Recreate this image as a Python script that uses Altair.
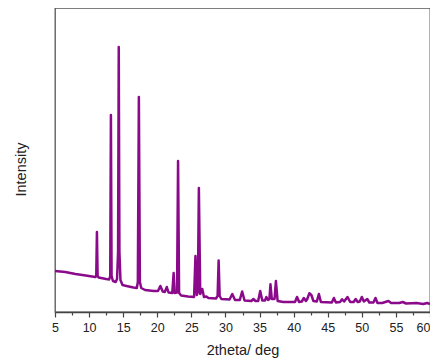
import altair as alt
import pandas as pd

two_theta = [
    5.0, 6.5, 8.0, 9.5, 10.9, 11.05, 11.15, 11.25, 11.4, 12.5,
    12.95, 13.1, 13.2, 13.3, 13.5, 13.9, 14.1, 14.25, 14.35, 14.45,
    14.6, 14.9, 15.5, 16.5, 17.0, 17.15, 17.3, 17.45, 17.65, 18.2,
    19.5, 20.1, 20.45, 20.8, 21.1, 21.4, 21.65, 22.2, 22.4, 22.55,
    22.9, 23.05, 23.2, 23.5, 24.5, 25.4, 25.6, 25.8, 25.95, 26.1,
    26.3, 26.6, 26.85, 27.2, 27.5, 28.6, 28.85, 29.0, 29.15, 29.4,
    30.6, 31.0, 31.4, 32.1, 32.45, 32.8, 33.8, 34.1, 34.4, 34.8,
    35.1, 35.4, 35.8, 36.0, 36.25, 36.45, 36.6, 36.8, 37.2, 37.4,
    37.65, 38.5, 40.2, 40.5, 40.8, 41.2, 41.5, 41.8, 42.0, 42.3,
    42.6, 42.9, 43.4, 43.7, 44.0, 45.6, 45.9, 46.2, 46.8, 47.1,
    47.4, 47.9, 48.3, 48.8, 49.1, 49.4, 49.7, 50.0, 50.3, 50.8,
    51.1, 51.7, 52.0, 52.3, 53.0, 53.9, 54.3, 55.5, 56.0, 56.5,
    58.0, 59.0, 59.6, 60.0,
]
intensity = [
    41, 40, 38, 36.5, 35, 36, 80, 36, 34.5, 33,
    32.5, 36, 197, 36, 31, 30, 33, 60, 265, 60,
    32, 27, 26, 24.5, 24, 30, 215, 30, 24, 22,
    21, 21, 26, 20.5, 20, 25, 19.5, 19, 39, 19,
    19.5, 151, 19, 16.5, 15.5, 15, 56, 17, 20, 124,
    18, 23, 15, 15.5, 14, 13.5, 16, 51.5, 16, 13,
    12.5, 18, 12, 12, 20.5, 11.5, 11, 13, 11, 11,
    21, 11.5, 11.5, 15, 12, 13, 27.7, 13, 13, 31,
    11, 10, 10, 15, 10, 10.5, 14, 11, 13, 18.7,
    17, 11, 10.5, 18, 10, 9.5, 14, 9.5, 10, 12.7,
    10.5, 15, 10, 10, 13, 10, 10.5, 15, 10.5, 13,
    9.5, 9.5, 14, 9, 9, 11, 9, 9, 10, 8.5,
    9, 8, 9, 8,
]
x_ticks = [5 + 2.5 * i for i in range(23)]

df = pd.DataFrame({"two_theta": two_theta, "intensity": intensity, "order": list(range(len(two_theta)))})

chart = alt.Chart(df).mark_line(color="#8B0A8B", strokeWidth=2.5, strokeJoin="round").encode(
    x=alt.X(
        "two_theta:Q",
        scale=alt.Scale(domain=[5, 60], nice=False, zero=False),
        axis=alt.Axis(
            title="2theta/ deg",
            values=x_ticks,
            labelExpr="datum.value % 5 === 0 ? format(datum.value, 'd') : ''",
            labelAlign={"condition": {"test": "datum.value === 60", "value": "right"}, "value": "center"},
            tickSize={"condition": {"test": "datum.value % 5 === 0", "value": 5}, "value": 3},
            grid=False,
            domainColor="#444444",
            tickColor="#444444",
            domainWidth=1.3,
            tickWidth=1.2,
            labelFont="Liberation Sans",
            labelFontSize=12.5,
            labelColor="#222222",
            labelPadding=4,
            titleFont="Liberation Sans",
            titleFontSize=14.5,
            titleFontWeight="normal",
            titleColor="#222222",
            titlePadding=10,
            labelFlush=False,
        ),
    ),
    y=alt.Y(
        "intensity:Q",
        scale=alt.Scale(domain=[0, 304], nice=False),
        axis=alt.Axis(
            title="Intensity",
            ticks=False,
            labels=False,
            domain=False,
            grid=False,
            titleFont="Liberation Sans",
            titleFontSize=14.5,
            titleFontWeight="normal",
            titleColor="#222222",
            titlePadding=27,
            titleY=161,
        ),
    ),
    order="order:Q",
).properties(
    width=375,
    height=304,
    autosize=alt.AutoSizeParams(type="none"),
    padding={"left": 47, "top": 0, "right": 0, "bottom": 52},
    background="white",
).configure_view(
    stroke="#555555",
    strokeWidth=1.3,
)

chart.save("out.html", embed_options={"renderer": "svg", "actions": False})
